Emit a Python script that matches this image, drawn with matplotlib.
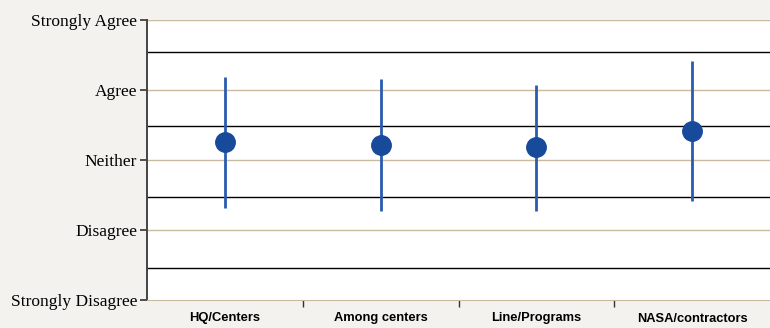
import numpy as np
from matplotlib import pyplot as plt

# survey categories and the mean / range (1 = Strongly Disagree, 5 = Strongly Agree)
groups = ['HQ/Centers', 'Among centers', 'Line/Programs', 'NASA/contractors']
means = [3.26, 3.21, 3.19, 3.41]
upper = [4.19, 4.16, 4.07, 4.41]
lower = [2.31, 2.27, 2.27, 2.41]
levels = ['Strongly Disagree', 'Disagree', 'Neither', 'Agree', 'Strongly Agree']
# black band lines
bands = [1.46, 2.47, 3.49, 4.54]

bg = '#f3f2ee'
tan = '#c9bb9f'

fig = plt.figure(figsize=(7.7, 3.28), dpi=100, facecolor=bg)
ax = fig.add_axes([147 / 770, 28 / 328, 623 / 770, 280 / 328])
ax.set_facecolor('white')

x = np.arange(len(groups))
ax.set_xlim(-0.5, len(groups) - 0.5)
ax.set_ylim(1, 5)

# tan lines at the answer levels, black band lines in between
for lv in range(2, 6):
    ax.axhline(lv, color=tan, lw=1.0, zorder=1)
for lv in bands:
    ax.axhline(lv, color='black', lw=1.0, zorder=1)

ax.vlines(x, lower, upper, color='#2a5cae', lw=2, zorder=3)
ax.plot(x, means, 'o', ms=14, color='#174a9a', zorder=4)

ax.set_yticks(range(1, 6))
ax.set_yticklabels(levels, family='Liberation Serif', fontsize=12.5)
ax.tick_params(axis='y', length=5, width=1.2, color='#333333', pad=2)

ax.set_xticks(x)
ax.set_xticklabels(groups, family='Liberation Sans', fontweight='bold', fontsize=9.3)
ax.tick_params(axis='x', length=0, pad=9)
ax.set_xticks(np.arange(0.5, len(groups) - 0.5), minor=True)
ax.tick_params(axis='x', which='minor', length=5, width=1, color='#333333', direction='out')

for s in ['top', 'right']:
    ax.spines[s].set_visible(False)
ax.spines['left'].set_color('#444444')
ax.spines['left'].set_linewidth(1.4)
ax.spines['bottom'].set_color(tan)

fig.savefig('out.png', dpi=100, facecolor=bg)
